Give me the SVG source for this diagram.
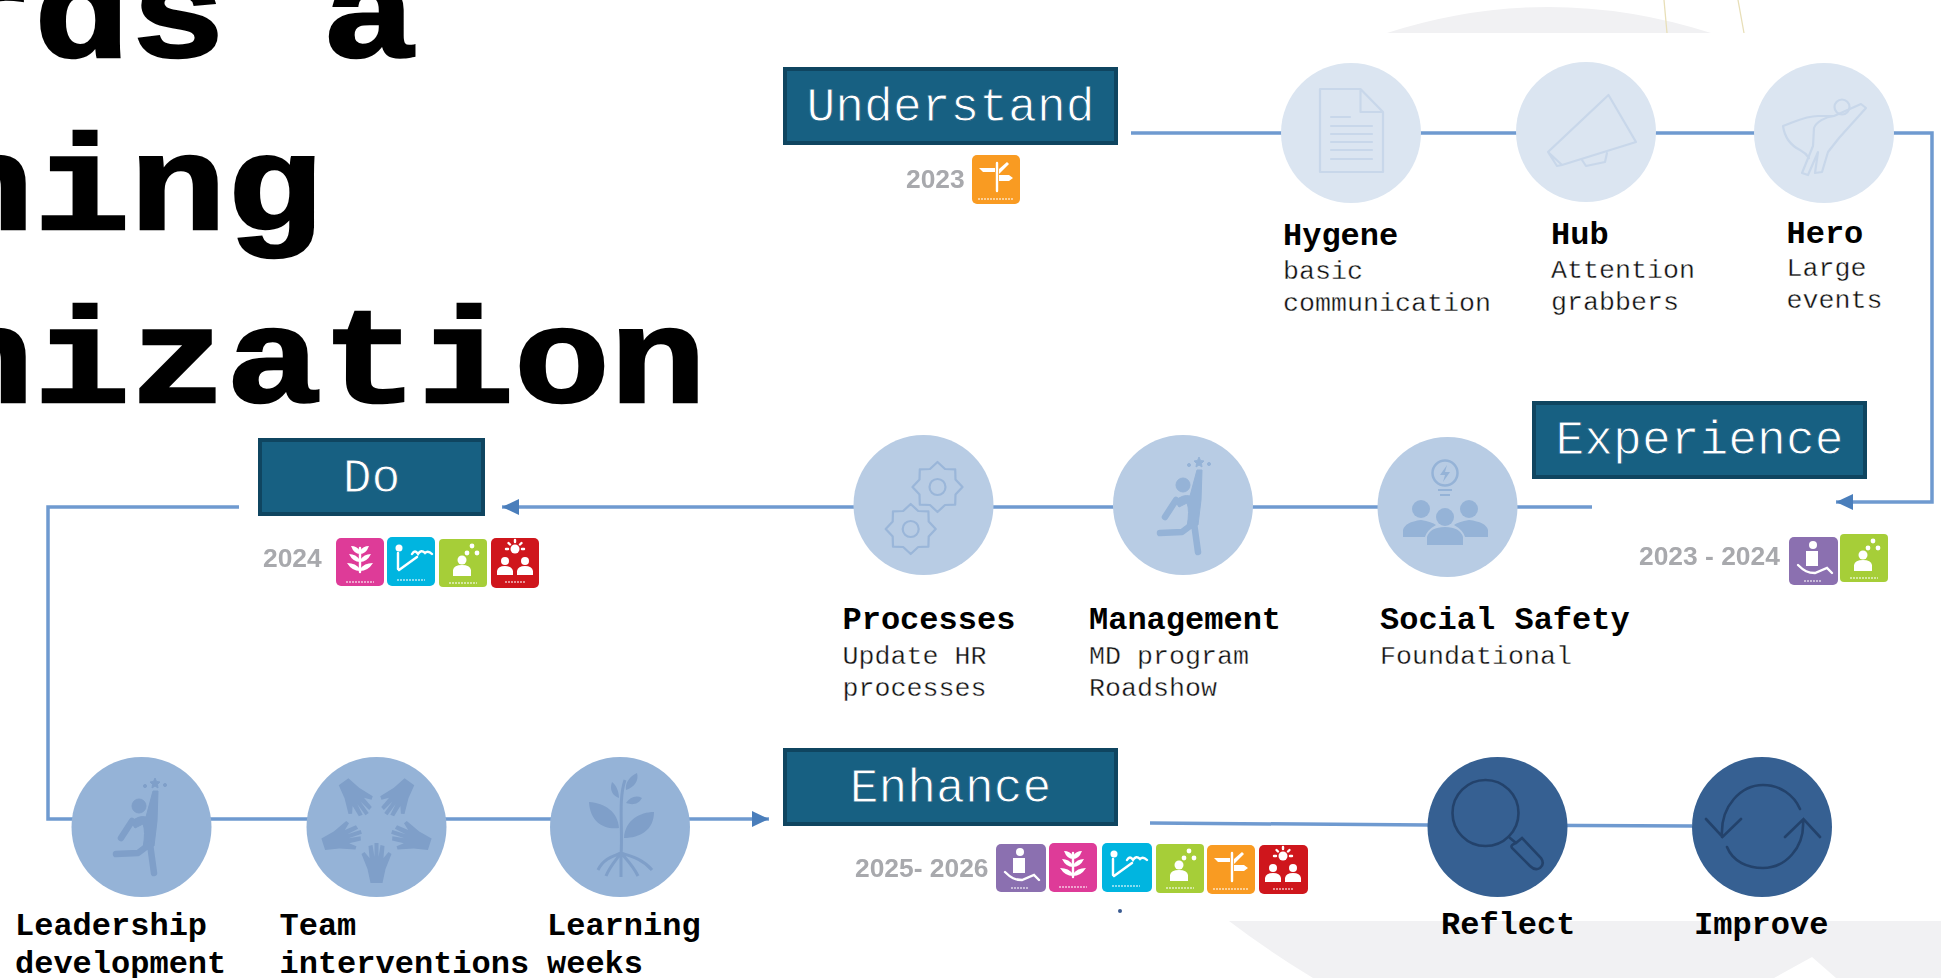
<svg xmlns="http://www.w3.org/2000/svg" width="1941" height="978" viewBox="0 0 1941 978">
<style>
text{font-family:"Liberation Mono","Courier New",monospace;fill:#000}
.title{font-size:160px;font-weight:700;stroke:#000;stroke-width:3}
.bt{font-size:48px;fill:#fff;text-anchor:middle;stroke:#176082;stroke-width:.9}
.h{font-size:32px;font-weight:700}
.s{font-size:26.67px;fill:#111;stroke:#fff;stroke-width:.35}
text.yr{font-family:"Liberation Sans",Arial,sans-serif;font-weight:700;font-size:26.4px;fill:#a8a9ad}
.box{fill:#176082;stroke:#0f4560;stroke-width:4}
.ln{fill:none;stroke:#6f9ad0;stroke-width:3.5}
.c1{fill:#dbe5f1}.c2{fill:#b8cce4}.c3{fill:#95b3d7}.c4{fill:#366092}
.i1{fill:none;stroke:#c8d7ea;stroke-width:2.2;stroke-linejoin:round;stroke-linecap:round}
.i2{fill:none;stroke:#9ab6d9;stroke-width:2.2;stroke-linejoin:round}
.i4{fill:none;stroke:#23426b;stroke-width:2.6;stroke-linecap:round}
.w{fill:#fff}.ws{fill:none;stroke:#fff;stroke-width:2.4;stroke-linecap:round}
.lab{fill:none;stroke:#fff;stroke-width:1.4;stroke-dasharray:2 1;opacity:.7}
</style>
<defs>
<filter id="soft" x="-5%" y="-5%" width="110%" height="110%"><feGaussianBlur stdDeviation="0.55"/></filter>
<marker id="ah" markerUnits="userSpaceOnUse" markerWidth="18" markerHeight="18" refX="17" refY="9" orient="auto"><path d="M0 1L17 9L0 17z" fill="#4a7ebb"/></marker>
<path id="gear" d="M25 0L18 7.5L17.7 17.7L7.5 18L0 25L-7.5 18L-17.7 17.7L-18 7.5L-25 0L-18 -7.5L-17.7 -17.7L-7.5 -18L0 -25L7.5 -18L17.7 -17.7L18 -7.500Z"/>
<g id="reach"><circle cx="0" cy="-20" r="7"/><path d="M16 -48L17.500 -44.500L21 -44L18.500 -41.500L19 -38L16 -40L13 -38L13.500 -41.500L11 -44L14.500 -44.500Z"/><circle cx="6" cy="-40" r="1.500"/><circle cx="26" cy="-41" r="1.500"/><path d="M-8 -4Q0 -11 7 -9L14 -35H19L18 -5L15 20L4 22Q7 5 4 -2L-4 2Z"/><path d="M-7 -5L-18 12M11 18L-1 27L-23 28M11 18L15 47" fill="none" stroke-width="6.500" stroke-linecap="round" stroke-linejoin="round"/></g>
<g id="hand"><path d="M-6 56L6 56L9 42L15 27L12 25L7 31L8 19L4 18L2 30L2 16L-2 16L-2 30L-4 18L-8 19L-7 31L-12 25L-15 27L-9 42Z"/></g>
<g id="c-purple"><circle cx="24" cy="8" r="4" class="w"/><path class="w" d="M17 14H29V29H17Z"/><path class="ws" d="M9 28C15 34 19 36 26 36L38 31L43 36" stroke-width="3"/><path class="lab" d="M15 44H33"/></g>
<g id="c-pink"><path class="ws" d="M24 10V34"/><path class="w" d="M15 8Q21 8 24 13Q27 8 33 8Q30 16 24 16Q18 16 15 8ZM13 16Q20 16 24 22Q28 16 35 16Q31 24 24 24Q17 24 13 16ZM11 25Q20 25 24 31Q28 25 37 25Q32 33 24 33Q16 33 11 25Z"/><path class="lab" d="M10 44H38"/></g>
<g id="c-blue"><circle cx="12" cy="11" r="3.500" class="w"/><path class="ws" d="M11 16V32M12 33L30 20" stroke-width="3.500"/><path class="ws" d="M25 17Q28 12 31 17Q34 12 38 16Q41 13 45 17" stroke-width="2"/><path class="lab" d="M10 43H38"/></g>
<g id="c-green"><circle cx="33" cy="7" r="2.400" class="w"/><circle cx="28" cy="14" r="2.400" class="w"/><circle cx="38" cy="14" r="2.400" class="w"/><circle cx="23" cy="21" r="4.500" class="w"/><path class="w" d="M14 37V31Q15 26 23 26Q31 26 32 31V37Z"/><path class="lab" d="M10 44H38"/></g>
<g id="c-orange"><path class="ws" d="M25 8V36" stroke-width="3"/><path class="w" d="M7 13H23V17H11ZM27 14L35 7L37 9L27 19ZM27 20H37L41 23L37 26H27Z"/><path class="lab" d="M6 44H42"/></g>
<g id="c-red"><circle cx="24" cy="11" r="4.500" class="w"/><path class="ws" d="M24 2V4M15 11H17M31 11H33M17.500 5L19 6.500M30.500 5L29 6.500" stroke-width="1.600"/><circle cx="14" cy="23" r="4" class="w"/><circle cx="34" cy="23" r="4" class="w"/><path class="w" d="M6 37V33Q7 28 14 28Q21 28 22 33V37ZM26 37V33Q27 28 34 28Q41 28 42 33V37Z"/><path class="lab" d="M14 44H34"/></g>
</defs>

<rect width="1941" height="978" fill="#fff"/>
<g id="background">
<path d="M1387 33Q1548 -19 1711 33Z" fill="#f1f1f3"/>
<path d="M1664 0L1667 33M1738 0L1744 33" fill="none" stroke="#e8dfb8" stroke-width="1.300"/>
<path d="M1229 921H1941V978H1836L1812 957L1774 978H1313Q1267 950 1229 921Z" fill="#f1f1f3"/>
<circle cx="1120" cy="911" r="2" fill="#3a5a90"/>
</g>

<g id="title">
<text class="title" transform="translate(-446 57) scale(1 .85)">Towards a</text>
<text class="title" transform="translate(-446 229) scale(1 .85)">learning</text>
<text class="title" transform="translate(-446 402) scale(1 .85)">organization</text>
</g>

<g id="connectors">
<path class="ln" d="M1131 133H1932V502H1836" marker-end="url(#ah)"/>
<path class="ln" d="M1592 507H502" marker-end="url(#ah)"/>
<path class="ln" d="M239 507H48V819H769" marker-end="url(#ah)"/>
<path class="ln" d="M1150 823L1428 825L1692 826"/>
</g>

<g id="understand"><rect class="box" x="785" y="69" width="331" height="74"/><text class="bt" x="950.500" y="121">Understand</text>
<g filter="url(#soft)"><text class="yr" x="906" y="188">2023</text><g transform="translate(972 155)"><rect width="48" height="49" rx="5" fill="#f99b20"/><use href="#c-orange"/></g></g></g>

<g id="hygene"><circle class="c1" cx="1351" cy="133" r="70"/><path class="i1" d="M1320 89H1360.500L1383 112V172H1320ZM1360.500 89V112H1383M1331 117H1350M1331 126H1372M1331 134H1372M1331 142H1372M1331 150H1372M1331 159H1372"/><text class="h" x="1283" y="245">Hygene</text><text class="s" x="1283" y="279">basic</text><text class="s" x="1283" y="311">communication</text></g>
<g id="hub"><circle class="c1" cx="1586" cy="132" r="70"/><path class="i1" d="M1608.500 95L1636 142L1562 165L1548 152ZM1548 152L1557 166L1562 165M1582 160L1586 166L1605 162L1607 153"/><text class="h" x="1551" y="244">Hub</text><text class="s" x="1551" y="278">Attention</text><text class="s" x="1551" y="310">grabbers</text></g>
<g id="hero"><circle class="c1" cx="1824" cy="133" r="70"/><circle class="i1" cx="1842" cy="107" r="7.500"/><path class="i1" d="M1818 116C1805 116 1795 122 1783 126C1785 140 1792 146 1800 150C1804 152 1807 155 1809 158M1818 116H1834L1861 104L1866 108L1839 138L1828 152L1822 172L1815 173L1818 152L1808 175L1802 173L1813 146L1814 128C1816 122 1825 117 1834 116"/><text class="h" x="1786.500" y="243">Hero</text><text class="s" x="1786.500" y="276">Large</text><text class="s" x="1786.500" y="308">events</text></g>

<g id="experience"><rect class="box" x="1534" y="403" width="331" height="74"/><text class="bt" x="1699.500" y="454">Experience</text>
<g filter="url(#soft)"><text class="yr" x="1639" y="565">2023 - 2024</text><g transform="translate(1789 537)"><rect width="49" height="48" rx="5" fill="#8b6fb0"/><use href="#c-purple"/></g><g transform="translate(1840 534)"><rect width="48" height="48" rx="4" fill="#a6ce39"/><use href="#c-green"/></g></g></g>

<g id="social-safety"><circle class="c2" cx="1447.500" cy="507" r="70"/><g fill="#95b3d7"><circle cx="1445" cy="473" r="12.500" fill="none" stroke="#95b3d7" stroke-width="2.500"/><path d="M1447 465L1440 475H1445L1443 482L1450 472H1445ZM1438 489H1452V491H1438ZM1440 494H1450V496H1440Z"/><circle cx="1421" cy="509" r="9"/><circle cx="1469" cy="509" r="9"/><circle cx="1445" cy="517" r="9"/><path d="M1403 537V530Q1405 522 1421 520Q1432 522 1436 525Q1427 530 1425 537ZM1488 537V530Q1486 522 1469 520Q1458 522 1454 525Q1463 530 1465 537ZM1427 545V537Q1430 527 1445 527Q1460 527 1463 537V545Z"/></g><text class="h" x="1380" y="629">Social Safety</text><text class="s" x="1380" y="664">Foundational</text></g>
<g id="management"><circle class="c2" cx="1183" cy="505" r="70"/><use href="#reach" x="1183" y="505" fill="#95b3d7" stroke="#95b3d7"/><text class="h" x="1089" y="629">Management</text><text class="s" x="1089" y="664">MD program</text><text class="s" x="1089" y="696">Roadshow</text></g>
<g id="processes"><circle class="c2" cx="923.500" cy="505" r="70"/><use href="#gear" class="i2" x="937.500" y="487"/><circle class="i2" cx="937.500" cy="487" r="8"/><use href="#gear" class="i2" x="910.700" y="529"/><circle class="i2" cx="910.700" cy="529" r="8"/><text class="h" x="842.500" y="629">Processes</text><text class="s" x="842.500" y="664">Update HR</text><text class="s" x="842.500" y="696">processes</text></g>

<g id="do"><rect class="box" x="260" y="440" width="223" height="74"/><text class="bt" x="371.500" y="492">Do</text>
<g filter="url(#soft)"><text class="yr" x="263" y="567">2024</text><g transform="translate(336 538)"><rect width="48" height="48" rx="5" fill="#de3b98"/><use href="#c-pink"/></g><g transform="translate(387 537)"><rect width="48" height="49" rx="5" fill="#06b5e0"/><use href="#c-blue"/></g><g transform="translate(439 539)"><rect width="48" height="48" rx="4" fill="#a6ce39"/><use href="#c-green"/></g><g transform="translate(491 538)"><rect width="48" height="50" rx="5" fill="#cf181f"/><use href="#c-red"/></g></g></g>

<g id="leadership"><circle class="c3" cx="141.500" cy="827" r="70"/><use href="#reach" x="139" y="826" fill="#7f9fc9" stroke="#7f9fc9"/><text class="h" x="15" y="935">Leadership</text><text class="h" x="15" y="973">development</text></g>
<g id="team"><circle class="c3" cx="376.500" cy="827" r="70"/><g fill="#7f9fc9" transform="translate(376.500 827)"><use href="#hand"/><use href="#hand" transform="rotate(72)"/><use href="#hand" transform="rotate(144)"/><use href="#hand" transform="rotate(216)"/><use href="#hand" transform="rotate(288)"/></g><text class="h" x="279.500" y="935">Team</text><text class="h" x="279.500" y="973">interventions</text></g>
<g id="learning"><circle class="c3" cx="620" cy="827" r="70"/><g fill="#7f9fc9"><path d="M589 802C605 803 618 812 619 828C604 830 590 822 589 802ZM654 812C640 812 625 820 624 838C640 838 654 830 654 812ZM612 782C616 785 619 791 619 798C613 796 609 790 612 782ZM637 773C639 780 635 787 626 790C625 783 629 777 637 773ZM642 798C638 805 632 805 626 803C630 797 636 795 642 798Z"/><path d="M625 780C618 800 623 830 621 855M621 853C614 856 604 858 598 870M621 853C629 856 642 858 652 870M621 853C616 860 610 866 606 876M621 853C627 860 633 866 638 876M621 853V877" fill="none" stroke="#7f9fc9" stroke-width="3"/></g><text class="h" x="547" y="935">Learning</text><text class="h" x="547" y="973">weeks</text></g>

<g id="enhance"><rect class="box" x="785" y="750" width="331" height="74"/><text class="bt" x="950.500" y="802">Enhance</text>
<g filter="url(#soft)"><text class="yr" x="855" y="877">2025- 2026</text><g transform="translate(996 844)"><rect width="50" height="48" rx="5" fill="#8b6fb0"/><use href="#c-purple"/></g><g transform="translate(1049 843)"><rect width="48" height="49" rx="5" fill="#de3b98"/><use href="#c-pink"/></g><g transform="translate(1102 843)"><rect width="50" height="49" rx="5" fill="#06b5e0"/><use href="#c-blue"/></g><g transform="translate(1156 844)"><rect width="48" height="49" rx="4" fill="#a6ce39"/><use href="#c-green"/></g><g transform="translate(1207 845)"><rect width="48" height="49" rx="5" fill="#f99b20"/><use href="#c-orange"/></g><g transform="translate(1259 845)"><rect width="49" height="49" rx="5" fill="#cf181f"/><use href="#c-red"/></g></g></g>

<g id="reflect"><circle class="c4" cx="1497.500" cy="827" r="70"/><circle class="i4" cx="1485.500" cy="813" r="33"/><path class="i4" d="M1510 838L1516 843M1516 843L1522 838L1541 858Q1545 864 1540 868Q1535 871 1530 866L1512 848Q1510 845 1516 843Z"/><text class="h" x="1441" y="934">Reflect</text></g>
<g id="improve"><circle class="c4" cx="1762" cy="827" r="70"/><path class="i4" d="M1722 837C1720 805 1742 785 1763 785C1780 785 1794 795 1800 809M1706 819L1722.500 837L1741 819M1727 847C1733 862 1748 868 1763 868C1785 868 1805 848 1803 820M1785 837L1803.500 819L1820 837"/><text class="h" x="1694" y="934">Improve</text></g>
</svg>
